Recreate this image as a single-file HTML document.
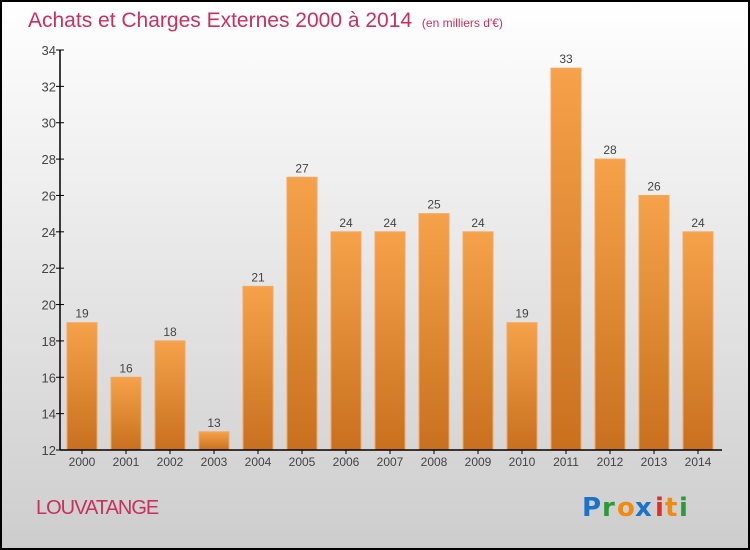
<!DOCTYPE html>
<html><head><meta charset="utf-8"><style>
html,body{margin:0;padding:0}
body{width:750px;height:550px;overflow:hidden}
svg{display:block}
</style></head><body>
<svg id="chart" width="750" height="550" xmlns="http://www.w3.org/2000/svg">
<defs>
<linearGradient id="bg" x1="0" y1="0" x2="0" y2="1"><stop offset="0" stop-color="#ffffff"/><stop offset="1" stop-color="#cdcdcd"/></linearGradient>
<linearGradient id="barg" x1="0" y1="0" x2="0" y2="1"><stop offset="0" stop-color="#f6a24a"/><stop offset="1" stop-color="#c8701e"/></linearGradient>
</defs>
<rect x="1" y="1" width="748" height="548" fill="url(#bg)" stroke="#000" stroke-width="2"/>
<text x="28" y="27" font-family="Liberation Sans, sans-serif" font-size="21" fill="#c8305e">Achats et Charges Externes 2000 à 2014 <tspan font-size="12" dx="4">(en milliers d'€)</tspan></text>
<g id="grid"></g><g id="bars"></g><g id="axes"></g>
<text x="36" y="514" font-family="Liberation Sans, sans-serif" font-size="20" fill="#c8305e" letter-spacing="-1">LOUVATANGE</text>
<g font-family="DejaVu Sans, sans-serif" font-size="26" font-weight="bold">
<text x="582" y="516" fill="#1a73c8">P</text><text x="602" y="516" fill="#2a9a3a">r</text><text x="617" y="516" fill="#f08a10">o</text><text x="635" y="516" fill="#1a73c8">x</text><text x="655" y="516" fill="#e03020">i</text><text x="665" y="516" fill="#f08a10">t</text><text x="679" y="516" fill="#2a9a3a">i</text>
</g>
</svg>
<script>
const categories=["2000","2001","2002","2003","2004","2005","2006","2007","2008","2009","2010","2011","2012","2013","2014"];
const values=[19,16,18,13,21,27,24,24,25,24,19,33,28,26,24];
const yTicks=[12,14,16,18,20,22,24,26,28,30,32,34];
const NS="http://www.w3.org/2000/svg";
const x0=60,x1=722,yTop=50,yBot=450,yMin=12,yMax=34;
const y=v=>yBot-(v-yMin)/(yMax-yMin)*(yBot-yTop);
const step=44,first=82;
const xc=i=>first+i*step;
function mk(tag,attrs,parent){const e=document.createElementNS(NS,tag);for(const k in attrs)e.setAttribute(k,attrs[k]);parent.appendChild(e);return e;}
const bars=document.getElementById('bars'),axes=document.getElementById('axes');
values.forEach((v,i)=>{
 const r=mk('rect',{x:xc(i)-15,y:y(v),width:30,height:yBot-y(v),fill:'url(#barg)',stroke:'#f4a860','stroke-width':1},bars);
 
 
 const t=mk('text',{x:xc(i),y:y(v)-5,'text-anchor':'middle','font-family':'Liberation Sans, sans-serif','font-size':12,fill:'#444'},bars);
 t.textContent=values[i];
 
 
 const c=mk('text',{x:xc(i),y:466,'text-anchor':'middle','font-family':'Liberation Sans, sans-serif','font-size':12,fill:'#444'},axes);
 c.textContent=categories[i];
 
 
 const tk=mk('line',{x1:xc(i),x2:xc(i),y1:yBot,y2:yBot+4,stroke:'#000'},axes);
 
 
});
yTicks.forEach(v=>{
 const l=mk('line',{x1:x0-4,x2:x0+4,y1:y(v),y2:y(v),stroke:'#000'},axes);
 
 
 const t=mk('text',{x:x0-4,y:y(v)+5,'text-anchor':'end','font-family':'Liberation Sans, sans-serif','font-size':13,fill:'#444'},axes);
 t.textContent=v;
 
 
});
const ya=mk('line',{x1:x0,x2:x0,y1:yTop,y2:yBot,stroke:'#000','stroke-width':1.5},axes);


const xa=mk('line',{x1:x0,x2:x1,y1:yBot,y2:yBot,stroke:'#000','stroke-width':1.5},axes);


</script>
</body></html>
